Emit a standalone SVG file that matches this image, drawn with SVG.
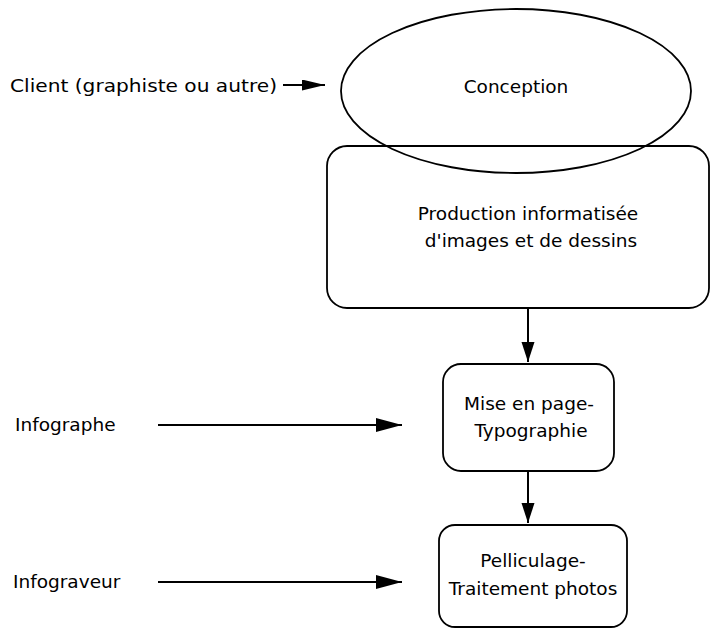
<svg xmlns="http://www.w3.org/2000/svg" width="711" height="629" viewBox="0 0 711 629">
  <style>
    .shape { fill: none; stroke: #000; stroke-width: 1.8; }
    .link { fill: none; stroke: #000; stroke-width: 2; }
    text { font-family: "DejaVu Sans", "Liberation Sans", sans-serif; font-size: 18.5px; fill: #000; }
    .mid { text-anchor: middle; }
  </style>
  <defs>
    <marker id="head" markerUnits="userSpaceOnUse" markerWidth="28" markerHeight="16" refX="26" refY="7" orient="auto">
      <path d="M0,0 L26,7 L0,14 z" fill="#000"/>
    </marker>
    <marker id="headSmall" markerUnits="userSpaceOnUse" markerWidth="25" markerHeight="13" refX="23" refY="5.5" orient="auto">
      <path d="M0,0 L23,5.5 L0,11 z" fill="#000"/>
    </marker>
    <marker id="headV" markerUnits="userSpaceOnUse" markerWidth="22" markerHeight="15" refX="20" refY="6.5" orient="auto">
      <path d="M0,0 L20,6.5 L0,13 z" fill="#000"/>
    </marker>
  </defs>

  <rect width="711" height="629" fill="#fff"/>

  <!-- connectors -->
  <g id="connectors">
    <line class="link" x1="283" y1="85" x2="325" y2="85" marker-end="url(#headSmall)"/>
    <line class="link" x1="528" y1="308" x2="528" y2="362" marker-end="url(#headV)"/>
    <line class="link" x1="528" y1="471" x2="528" y2="523" marker-end="url(#headV)"/>
    <line class="link" x1="158" y1="425" x2="402" y2="425" marker-end="url(#head)"/>
    <line class="link" x1="158" y1="582" x2="402" y2="582" marker-end="url(#head)"/>
  </g>

  <!-- actors -->
  <g id="client">
    <text x="10" y="92" textLength="267" lengthAdjust="spacingAndGlyphs">Client (graphiste ou autre)</text>
  </g>
  <g id="infographe">
    <text x="15" y="431">Infographe</text>
  </g>
  <g id="infograveur">
    <text x="13" y="588">Infograveur</text>
  </g>

  <!-- process steps -->
  <g id="production">
    <rect class="shape" x="327" y="146" width="382" height="162" rx="20"/>
    <text class="mid" x="528" y="220">Production informatisée</text>
    <text class="mid" x="531" y="247">d'images et de dessins</text>
  </g>
  <g id="conception">
    <ellipse class="shape" cx="516" cy="91" rx="175" ry="82"/>
    <text class="mid" x="516" y="93">Conception</text>
  </g>
  <g id="mise-en-page">
    <rect class="shape" x="443" y="364" width="171" height="107" rx="18"/>
    <text class="mid" x="529" y="410">Mise en page-</text>
    <text class="mid" x="531" y="437">Typographie</text>
  </g>
  <g id="pelliculage">
    <rect class="shape" x="439" y="525" width="188" height="102" rx="16"/>
    <text class="mid" x="533" y="567">Pelliculage-</text>
    <text class="mid" x="533" y="595">Traitement photos</text>
  </g>
</svg>
